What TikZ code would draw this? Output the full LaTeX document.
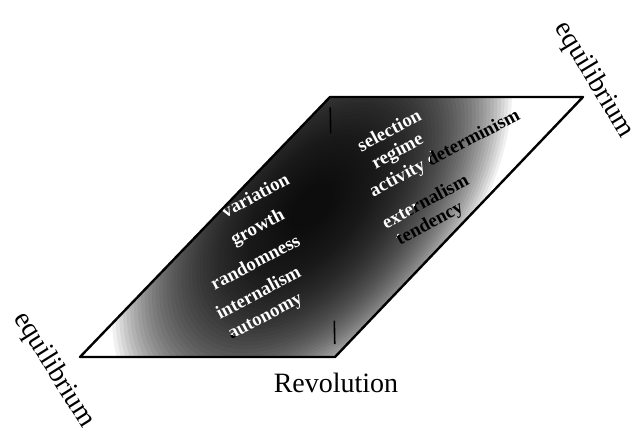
\documentclass[tikz,border=0pt]{standalone}
\usepackage{fontspec}
\setmainfont{Liberation Serif}
\usetikzlibrary{calc}
\tikzset{
  frame/.style={line width=2.4pt, line join=round},
  word/.style={font=\fontsize{19}{19}\selectfont\bfseries, rotate=28, inner sep=0pt},
  tag/.style={font=\fontsize{28}{28}\selectfont, inner sep=0pt},
  blob/.style={rotate around={50:(312,206)}},
}
\begin{document}
\begin{tikzpicture}[x=1pt,y=-1pt]
\useasboundingbox (0,0) rectangle (640,436);

\coordinate (bl) at (80,357);
\coordinate (br) at (335,357);
\coordinate (tr) at (583,97);
\coordinate (tl) at (330,97);

\begin{scope}
\clip (bl) -- (br) -- (tr) -- (tl) -- cycle;
\foreach \r in {1.1,1.08,...,0.1}
  \fill[black, opacity=0.058, blob] (312,206) ellipse [x radius=\r*235, y radius=\r*132];
\end{scope}

\node[word] (w1) at (389,130) {selection};
\node[word] (w2) at (398,152) {regime};
\node[word] (w3) at (445,154) {activity determinism};
\node[word] (w4) at (425,201) {externalism};
\node[word] (w5) at (430,224) {tendency};
\node[word] (w6) at (255,195) {variation};
\node[word] (w7) at (258,228) {growth};
\node[word] (w8) at (255,262) {randomness};
\node[word] (w9) at (258,292) {internalism};
\node[word] (w10) at (266,318) {autonomy};

\begin{scope}
\clip[blob] (312,206) ellipse [x radius=155, y radius=86];
\foreach \n/\t in {w1/selection, w2/regime, w3/activity determinism, w4/externalism, w5/tendency,
  w6/variation, w7/growth, w8/randomness, w9/internalism, w10/autonomy}
  \node[word, white] at (\n) {\t};
\end{scope}

\draw[line width=1.6pt] ($(tl)!0.04!(br)$) -- ($(tl)!0.14!(br)$);
\draw[line width=1.6pt] ($(tl)!0.86!(br)$) -- ($(tl)!0.95!(br)$);
\draw[frame] (bl) -- (br) -- (tr) -- (tl) -- cycle;

\node[tag, rotate=-58] (eq1) at (54,370) {equilibrium};
\node[tag, rotate=-59] (eq2) at (594,80) {equilibrium};
\node[tag] (rev) at (336,383) {Revolution};
\end{tikzpicture}
\end{document}
